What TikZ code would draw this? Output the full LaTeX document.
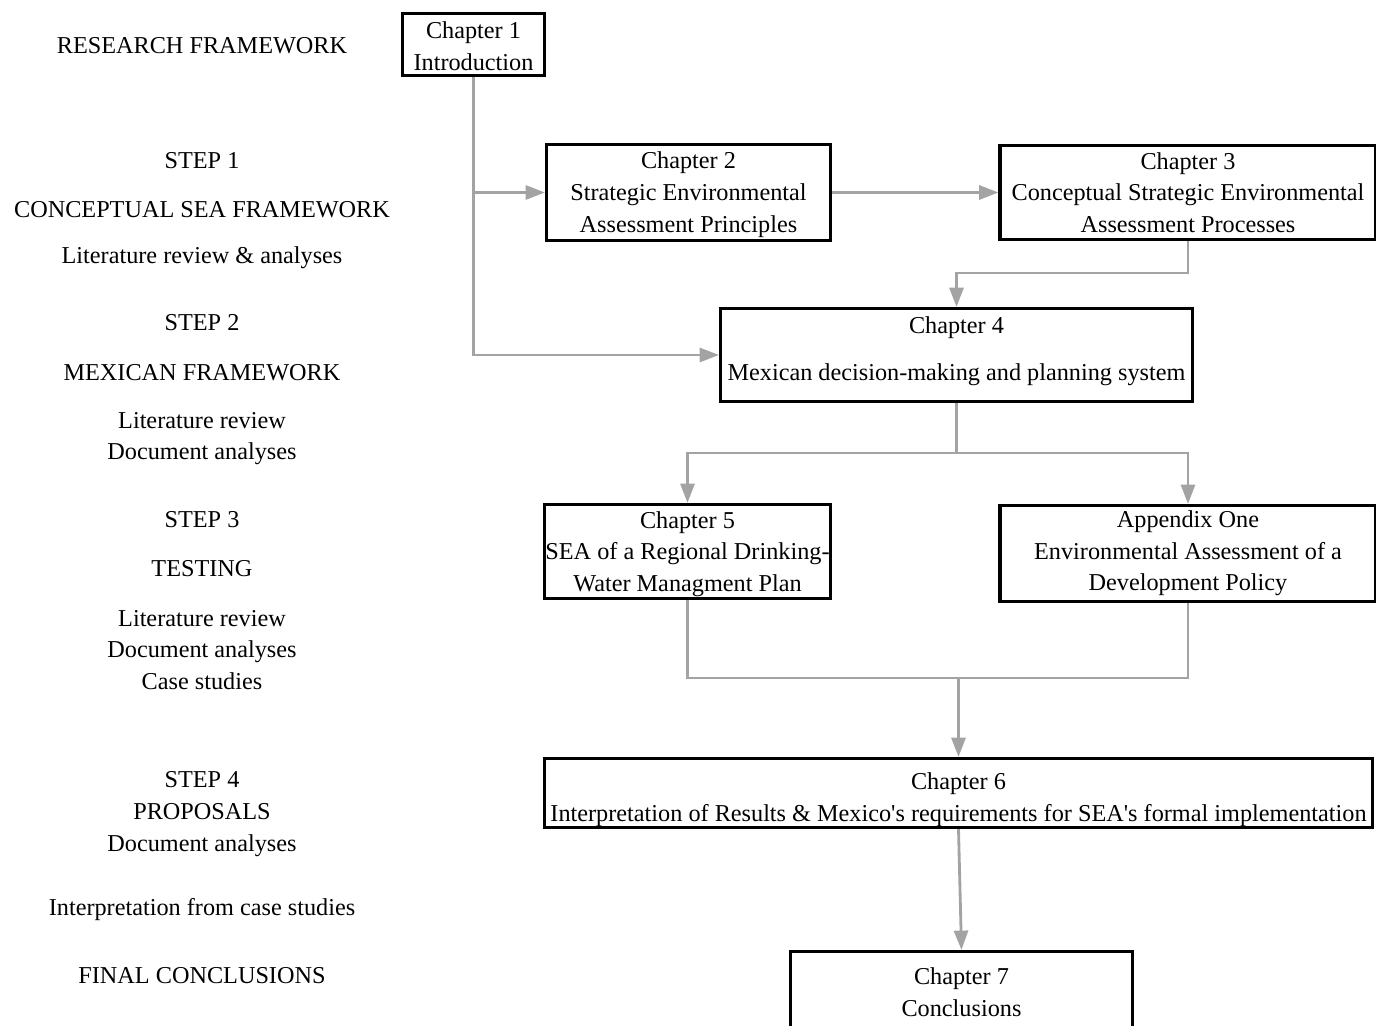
\documentclass[tikz,border=0pt]{standalone}
\usepackage{fontspec}
\setmainfont{Liberation Serif}
\usepackage{tikz}
\usetikzlibrary{arrows.meta}
\definecolor{lgray}{RGB}{163, 163, 163}
\tikzset{chap/.style = {draw, line width = 1.8pt, align = center, inner sep = 0}}
\tikzset{conn/.style = {lgray, line width = 1.6pt}}
\tikzset{arr/.style = {conn, -{Triangle[length = 11pt, width = 8pt]}}}
\tikzset{lbl/.style = {align = center, inner sep = 0}}

\begin{document}
\begin{tikzpicture}[x = 0.02cm, y = -0.02cm,
    font = \fontsize{13.8}{18}\selectfont]
    \useasboundingbox (0, 0) rectangle (1376, 1026);

    \node [lbl] (rf) at (202, 46) {RESEARCH FRAMEWORK};
    \node [lbl] (s1) at (202, 161) {STEP 1};
    \node [lbl] (s1t) at (202, 210) {CONCEPTUAL SEA FRAMEWORK};
    \node [lbl] (s1m) at (202, 258) {Literature review \& analyses};
    \node [lbl] (s2) at (202, 323) {STEP 2};
    \node [lbl] (s2t) at (202, 373) {MEXICAN FRAMEWORK};
    \node [lbl] (s2m) at (202, 438.5) {Literature review\\Document analyses};
    \node [lbl] (s3) at (202, 520) {STEP 3};
    \node [lbl] (s3t) at (202, 569) {TESTING};
    \node [lbl] (s3m) at (202, 650) {Literature review\\Document analyses\\Case studies};
    \node [lbl] (s4) at (202, 814) {STEP 4\\PROPOSALS\\Document analyses};
    \node [lbl] (s4c) at (202, 910) {Interpretation from case studies};
    \node [lbl] (fc) at (202, 976) {FINAL CONCLUSIONS};

    \node [chap, minimum width = 2.84cm, minimum height = 1.24cm] (ch1) at (473.5, 44.5)
        {\rule{0pt}{11.5pt}Chapter 1\\Introduction};
    \node [chap, minimum width = 5.68cm, minimum height = 1.92cm] (ch2) at (688.5, 192.5)
        {\rule{0pt}{12pt}Chapter 2\\Strategic Environmental\\Assessment Principles};
    \node [chap, minimum width = 7.52cm, minimum height = 1.88cm] (ch3) at (1188, 192.5)
        {Chapter 3\\Conceptual Strategic Environmental\\Assessment Processes};
    \node [chap, minimum width = 9.44cm, minimum height = 1.86cm] (ch4) at (956.5, 355)
        {Chapter 4\\[9pt]Mexican decision-making and planning system\\[-11pt]};
    \node [chap, minimum width = 5.72cm, minimum height = 1.88cm] (ch5) at (687.5, 551.5)
        {\rule{0pt}{12.5pt}Chapter 5\\SEA of a Regional Drinking-\\Water Managment Plan};
    \node [chap, minimum width = 7.52cm, minimum height = 1.92cm] (app) at (1188, 553.5)
        {Appendix One\\Environmental Assessment of a\\Development Policy};
    \node [chap, minimum width = 16.56cm, minimum height = 1.38cm] (ch6) at (958.5, 793)
        {\rule{0pt}{17.5pt}Chapter 6\\Interpretation of Results \& Mexico\textquotesingle s
        requirements for SEA\textquotesingle s formal implementation};
    \node [chap, minimum width = 6.84cm, minimum height = 1.64cm] (ch7) at (961.5, 992.5)
        {Chapter 7\\Conclusions};

    \coordinate (j34) at (956.5, 273);
    \coordinate (j45) at (956.5, 453);
    \coordinate (j56) at (958.5, 678);

    \draw [arr] (ch1.south) |- (ch4.west);
    \draw [arr] (ch1.south |- ch2.west) -- (ch2.west);
    \draw [arr] (ch2.east) -- (ch3.west);
    \draw [arr] (ch3.south) |- (j34) -- (ch4.north);
    \draw [arr] (ch4.south) -- (j45) -| (ch5.north);
    \draw [arr] (j45) -| (app.north);
    \draw [conn] (ch5.south) |- (j56);
    \draw [conn] (app.south) |- (j56);
    \draw [arr] (j56) -- (ch6.north);
    \draw [arr] (ch6.south) -- (ch7.north);
\end{tikzpicture}
\end{document}
